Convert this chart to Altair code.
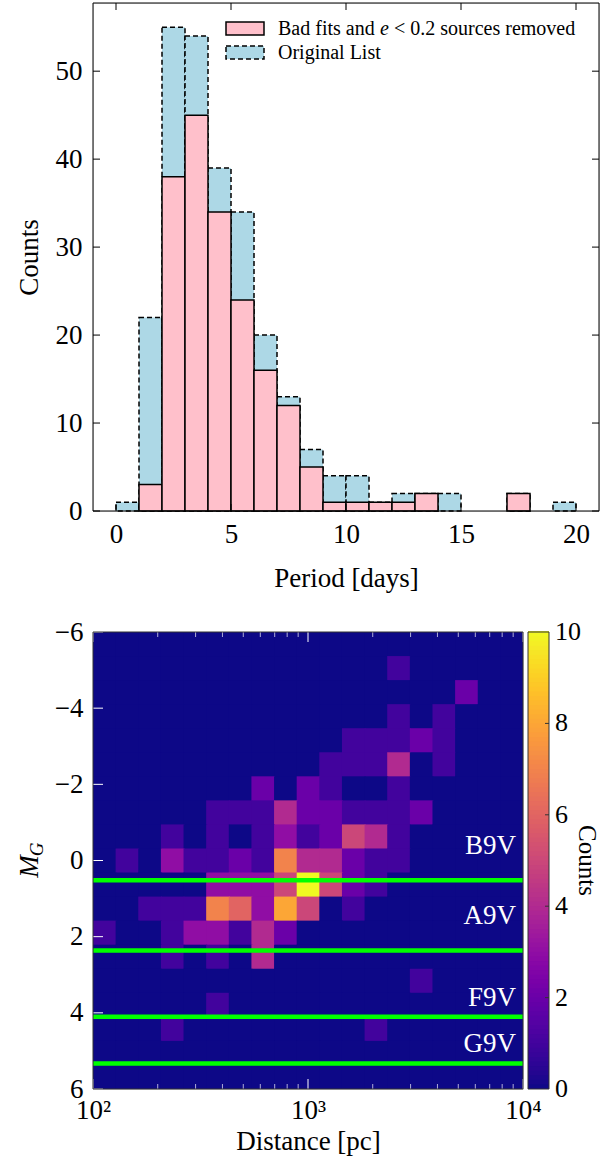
import altair as alt
import pandas as pd

FONT = "Liberation Serif"

# ---------------- top panel data (histogram of periods) ----------------
bin_start = list(range(20))
bin_width = 1
orig_counts = [1, 22, 55, 54, 39, 34, 20, 13, 7, 4, 4, 1, 2, 2, 2, 0, 0, 2, 0, 1]
clean_counts = [0, 3, 38, 45, 34, 24, 16, 12, 5, 1, 1, 1, 1, 2, 0, 0, 0, 2, 0, 0]
LABEL_CLEAN_PARTS = ["Bad fits and", "e", "< 0.2 sources removed"]
LABEL_ORIG = "Original List"
hist_x_ticks = [0, 5, 10, 15, 20]
hist_y_ticks = [0, 10, 20, 30, 40, 50]

# ---------------- bottom panel data (2D histogram) ----------------
n_bins = 19
dist_range = [100, 10000]
mg_range = [-6, 6]
# rows from M_G = -6 (top) to +6 (bottom), columns from 100 pc to 10^4 pc
heat_rows = [
    [0, 0, 0, 0, 0, 0, 0, 0, 0, 0, 0, 0, 0, 0, 0, 0, 0, 0, 0],
    [0, 0, 0, 0, 0, 0, 0, 0, 0, 0, 0, 0, 0, 1, 0, 0, 0, 0, 0],
    [0, 0, 0, 0, 0, 0, 0, 0, 0, 0, 0, 0, 0, 0, 0, 0, 2, 0, 0],
    [0, 0, 0, 0, 0, 0, 0, 0, 0, 0, 0, 0, 0, 1, 0, 1, 0, 0, 0],
    [0, 0, 0, 0, 0, 0, 0, 0, 0, 0, 0, 1, 1, 1, 2, 1, 0, 0, 0],
    [0, 0, 0, 0, 0, 0, 0, 0, 0, 0, 1, 1, 1, 4, 0, 1, 0, 0, 0],
    [0, 0, 0, 0, 0, 0, 0, 2, 0, 2, 1, 0, 0, 1, 0, 0, 0, 0, 0],
    [0, 0, 0, 0, 0, 1, 1, 1, 4, 2, 2, 1, 1, 1, 2, 0, 0, 0, 0],
    [0, 0, 0, 1, 0, 1, 0, 1, 3, 1, 2, 5, 4, 1, 0, 0, 0, 0, 0],
    [0, 1, 0, 3, 1, 1, 2, 1, 7, 4, 4, 2, 1, 1, 0, 0, 0, 0, 0],
    [0, 0, 0, 0, 0, 3, 3, 3, 5, 10, 5, 2, 1, 0, 0, 0, 0, 0, 0],
    [0, 0, 1, 1, 1, 7, 6, 3, 8, 5, 0, 1, 0, 0, 0, 0, 0, 0, 0],
    [1, 0, 0, 1, 3, 3, 1, 4, 2, 0, 0, 0, 0, 0, 0, 0, 0, 0, 0],
    [0, 0, 0, 1, 0, 1, 0, 4, 0, 0, 0, 0, 0, 0, 0, 0, 0, 0, 0],
    [0, 0, 0, 0, 0, 0, 0, 0, 0, 0, 0, 0, 0, 0, 1, 0, 0, 0, 0],
    [0, 0, 0, 0, 0, 1, 0, 0, 0, 0, 0, 0, 0, 0, 0, 0, 0, 0, 0],
    [0, 0, 0, 1, 0, 0, 0, 0, 0, 0, 0, 0, 1, 0, 0, 0, 0, 0, 0],
    [0, 0, 0, 0, 0, 0, 0, 0, 0, 0, 0, 0, 0, 0, 0, 0, 0, 0, 0],
    [0, 0, 0, 0, 0, 0, 0, 0, 0, 0, 0, 0, 0, 0, 0, 0, 0, 0, 0],
]
class_labels = ["B9V", "A9V", "F9V", "G9V"]
class_line_mg = [0.52, 2.36, 4.1, 5.33]
class_label_mg = [-0.18, 1.67, 3.82, 5.03]
class_label_dist = 9280
dist_major = [100, 1000, 10000]
dist_minor = [200, 300, 400, 500, 600, 700, 800, 900,
              2000, 3000, 4000, 5000, 6000, 7000, 8000, 9000]
mg_ticks = [-6, -4, -2, 0, 2, 4, 6]
cbar_range = [0, 10]
cbar_ticks = [0, 2, 4, 6, 8, 10]
cbar_inner_ticks = [2, 4, 6, 8]
cbar_title = "Counts"

# ---------------- build tables ----------------
orig_df = pd.DataFrame({"start": bin_start,
                        "end": [s + bin_width for s in bin_start],
                        "count": orig_counts, "base": 0})
orig_df = orig_df[orig_df["count"] > 0]
clean_df = pd.DataFrame({"start": bin_start,
                         "end": [s + bin_width for s in bin_start],
                         "count": clean_counts, "base": 0})
clean_df = clean_df[clean_df["count"] > 0]

lx0 = 2.0
lx_step = 2.0 / n_bins
y_step = (mg_range[1] - mg_range[0]) / n_bins
cells = []
for r, row in enumerate(heat_rows):
    for c, v in enumerate(row):
        cells.append({
            "x": 10 ** (lx0 + c * lx_step), "x2": 10 ** (lx0 + (c + 1) * lx_step),
            "y": mg_range[0] + r * y_step, "y2": mg_range[0] + (r + 1) * y_step,
            "count": v})
heat_df = pd.DataFrame(cells)

n_steps = 100
cb_step = (cbar_range[1] - cbar_range[0]) / n_steps
cbar_df = pd.DataFrame({
    "lo": [cbar_range[0] + i * cb_step for i in range(n_steps)],
    "hi": [cbar_range[0] + (i + 1) * cb_step for i in range(n_steps)],
    "mid": [cbar_range[0] + (i + 0.5) * cb_step for i in range(n_steps)],
})

one = pd.DataFrame({"k": [0]})

# ---------------- top panel ----------------
W1, H1 = 506, 508
TL = 7
PINK, BLUE = "#ffc0cb", "#add8e6"
DASH = [5, 3]
xs1 = alt.Scale(domain=[-1, 21], nice=False, zero=False)
ys1 = alt.Scale(domain=[0, 57.75], nice=False, zero=False)

x_axis1 = alt.Axis(values=hist_x_ticks, ticks=False, domain=False, grid=False,
                   labelFont=FONT, labelFontSize=27, labelPadding=10, labelFlush=False,
                   labelColor="black",
                   title="Period [days]", titleFont=FONT, titleFontSize=27,
                   titleFontWeight="normal", titlePadding=18, titleColor="black")
y_axis1 = alt.Axis(values=hist_y_ticks, ticks=False, domain=False, grid=False,
                   labelFont=FONT, labelFontSize=27, labelPadding=11, labelColor="black",
                   title="Counts", titleFont=FONT, titleFontSize=27,
                   titleFontWeight="normal", titlePadding=12, titleColor="black")

orig_layer = alt.Chart(orig_df).mark_rect(
    fill=BLUE, stroke="black", strokeWidth=1.5, strokeDash=DASH).encode(
    x=alt.X("start:Q", scale=xs1, axis=x_axis1), x2="end:Q",
    y=alt.Y("count:Q", scale=ys1, axis=y_axis1), y2="base:Q")
clean_layer = alt.Chart(clean_df).mark_rect(
    fill=PINK, stroke="black", strokeWidth=1.5).encode(
    x=alt.X("start:Q", scale=xs1, axis=x_axis1), x2="end:Q",
    y=alt.Y("count:Q", scale=ys1, axis=y_axis1), y2="base:Q")

xt1 = pd.DataFrame({"start": hist_x_ticks})
yt1 = pd.DataFrame({"count": hist_y_ticks})
tick_b1 = alt.Chart(xt1).mark_rule(color="black", strokeWidth=1).encode(
    x=alt.X("start:Q", scale=xs1, axis=x_axis1), y=alt.value(H1), y2=alt.value(H1 - TL))
tick_t1 = alt.Chart(xt1).mark_rule(color="black", strokeWidth=1).encode(
    x=alt.X("start:Q", scale=xs1, axis=x_axis1), y=alt.value(0), y2=alt.value(TL))
tick_l1 = alt.Chart(yt1).mark_rule(color="black", strokeWidth=1).encode(
    y=alt.Y("count:Q", scale=ys1, axis=y_axis1), x=alt.value(0), x2=alt.value(TL))
tick_r1 = alt.Chart(yt1).mark_rule(color="black", strokeWidth=1).encode(
    y=alt.Y("count:Q", scale=ys1, axis=y_axis1), x=alt.value(W1), x2=alt.value(W1 - TL))
frame1 = alt.Chart(one).mark_rect(fillOpacity=0, stroke="black", strokeWidth=1).encode(
    x=alt.value(0), x2=alt.value(W1), y=alt.value(0), y2=alt.value(H1))

# legend (patches + text)
LG_X0, LG_X1 = 133, 171
LG_TX = 185
LG_FS = 20
leg_patch1 = alt.Chart(one).mark_rect(fill=PINK, stroke="black", strokeWidth=1.5).encode(
    x=alt.value(LG_X0), x2=alt.value(LG_X1), y=alt.value(19), y2=alt.value(32))
leg_patch2 = alt.Chart(one).mark_rect(fill=BLUE, stroke="black", strokeWidth=1.5,
                                      strokeDash=DASH).encode(
    x=alt.value(LG_X0), x2=alt.value(LG_X1), y=alt.value(43), y2=alt.value(56))
part_x = [LG_TX, LG_TX + 102, LG_TX + 116]
part_style = ["normal", "italic", "normal"]
leg_texts = []
for txt, px, st in zip(LABEL_CLEAN_PARTS, part_x, part_style):
    leg_texts.append(alt.Chart(pd.DataFrame({"t": [txt]})).mark_text(
        align="left", baseline="alphabetic", font=FONT, fontSize=LG_FS, fontStyle=st,
        color="black").encode(text="t:N", x=alt.value(px), y=alt.value(32)))
leg_texts.append(alt.Chart(pd.DataFrame({"t": [LABEL_ORIG]})).mark_text(
    align="left", baseline="alphabetic", font=FONT, fontSize=LG_FS, color="black").encode(
    text="t:N", x=alt.value(LG_TX), y=alt.value(56)))

top = alt.layer(orig_layer, clean_layer, tick_b1, tick_t1, tick_l1, tick_r1, frame1,
                leg_patch1, leg_patch2, *leg_texts).properties(width=W1, height=H1)

# ---------------- bottom panel ----------------
W2, H2 = 430, 457
xs2 = alt.Scale(type="log", domain=dist_range, nice=False)
ys2 = alt.Scale(domain=mg_range, reverse=True, nice=False, zero=False)
cscale = alt.Scale(scheme="plasma", domain=cbar_range)

x_axis2 = alt.Axis(values=dist_major, ticks=False, domain=False, grid=False,
                   labelExpr="datum.value == 100 ? '10²' : datum.value == 1000 ? '10³' : '10⁴'",
                   labelFont=FONT, labelFontSize=27, labelPadding=8, labelFlush=False,
                   labelColor="black",
                   title="Distance [pc]", titleFont=FONT, titleFontSize=27,
                   titleFontWeight="normal", titlePadding=5, titleColor="black")
y_axis2 = alt.Axis(values=mg_ticks, ticks=False, domain=False, grid=False,
                   labelFont=FONT, labelFontSize=27, labelPadding=10, labelFlush=False,
                   labelColor="black", title=None)

heat = alt.Chart(heat_df).mark_rect(x2Offset=1, y2Offset=1, clip=True).encode(
    x=alt.X("x:Q", scale=xs2, axis=x_axis2),
    x2="x2:Q",
    y=alt.Y("y:Q", scale=ys2, axis=y_axis2),
    y2="y2:Q",
    color=alt.Color("count:Q", scale=cscale, legend=None),
)

lines_df = pd.DataFrame({"y": class_line_mg})
lines = alt.Chart(lines_df).mark_rule(color="#00ff00", strokeWidth=4.5).encode(
    y=alt.Y("y:Q", scale=ys2, axis=y_axis2), x=alt.value(0), x2=alt.value(W2))

lab_df = pd.DataFrame({"label": class_labels, "y": class_label_mg,
                       "x": [class_label_dist] * len(class_labels)})
labels = alt.Chart(lab_df).mark_text(align="right", baseline="alphabetic", color="white",
                                     font=FONT, fontSize=27).encode(
    x=alt.X("x:Q", scale=xs2, axis=x_axis2), y=alt.Y("y:Q", scale=ys2, axis=y_axis2),
    text="label:N")

TLM, TLm = 10, 5
maj_df = pd.DataFrame({"x": dist_major})
min_df = pd.DataFrame({"x": dist_minor})
mgt_df = pd.DataFrame({"y": mg_ticks})
tick_layers = [
    alt.Chart(maj_df).mark_rule(color="white", strokeWidth=1).encode(
        x=alt.X("x:Q", scale=xs2, axis=x_axis2), y=alt.value(H2), y2=alt.value(H2 - TLM)),
    alt.Chart(maj_df).mark_rule(color="white", strokeWidth=1).encode(
        x=alt.X("x:Q", scale=xs2, axis=x_axis2), y=alt.value(0), y2=alt.value(TLM)),
    alt.Chart(min_df).mark_rule(color="white", strokeWidth=0.8, opacity=0.85).encode(
        x=alt.X("x:Q", scale=xs2, axis=x_axis2), y=alt.value(H2), y2=alt.value(H2 - TLm)),
    alt.Chart(min_df).mark_rule(color="white", strokeWidth=0.8, opacity=0.85).encode(
        x=alt.X("x:Q", scale=xs2, axis=x_axis2), y=alt.value(0), y2=alt.value(TLm)),
    alt.Chart(mgt_df).mark_rule(color="white", strokeWidth=1).encode(
        y=alt.Y("y:Q", scale=ys2, axis=y_axis2), x=alt.value(0), x2=alt.value(TLM)),
]
frame2 = alt.Chart(one).mark_rect(fillOpacity=0, stroke="#333", strokeWidth=1).encode(
    x=alt.value(0), x2=alt.value(W2), y=alt.value(0), y2=alt.value(H2))

m_title = alt.Chart(pd.DataFrame({"t": ["M"]})).mark_text(
    angle=270, font=FONT, fontSize=27, fontStyle="italic", color="black",
    align="center", baseline="middle").encode(
    text="t:N", x=alt.value(-63), y=alt.value(H2 / 2 + 6))
g_title = alt.Chart(pd.DataFrame({"t": ["G"]})).mark_text(
    angle=270, font=FONT, fontSize=19, fontStyle="italic", color="black",
    align="center", baseline="middle").encode(
    text="t:N", x=alt.value(-56), y=alt.value(H2 / 2 - 11))

main2 = alt.layer(heat, lines, labels, *tick_layers, frame2, m_title, g_title)

# colorbar, drawn through its own count scale
CB_X0, CB_X1 = W2 + 5, W2 + 26
cys = alt.Scale(domain=cbar_range, nice=False, zero=False)
cb_rects = alt.Chart(cbar_df).mark_rect(y2Offset=-1).encode(
    x=alt.value(CB_X0), x2=alt.value(CB_X1),
    y=alt.Y("lo:Q", scale=cys, axis=None), y2="hi:Q",
    color=alt.Color("mid:Q", scale=cscale, legend=None))
cb_frame = alt.Chart(one).mark_rect(fillOpacity=0, stroke="#333", strokeWidth=1).encode(
    x=alt.value(CB_X0), x2=alt.value(CB_X1), y=alt.value(0), y2=alt.value(H2))
cb_tick_df = pd.DataFrame({"lo": cbar_inner_ticks})
cb_ticks = alt.Chart(cb_tick_df).mark_rule(color="#333", strokeWidth=1).encode(
    y=alt.Y("lo:Q", scale=cys, axis=None), x=alt.value(CB_X1 - 4), x2=alt.value(CB_X1))
cb_lab_df = pd.DataFrame({"lo": cbar_ticks, "txt": [str(v) for v in cbar_ticks]})
cb_labels = alt.Chart(cb_lab_df).mark_text(
    align="left", baseline="middle", font=FONT, fontSize=26, color="black").encode(
    y=alt.Y("lo:Q", scale=cys, axis=None), x=alt.value(CB_X1 + 6), text="txt:N")
cb_title = alt.Chart(pd.DataFrame({"t": [cbar_title]})).mark_text(
    angle=90, align="center", baseline="middle", font=FONT, fontSize=25,
    color="black").encode(text="t:N", x=alt.value(W2 + 64), y=alt.value(H2 / 2))
cbar = alt.layer(cb_rects, cb_frame, cb_ticks, cb_labels, cb_title)

bottom = alt.layer(main2, cbar).resolve_scale(y="independent").properties(
    width=W2, height=H2)

chart = alt.vconcat(top, bottom, spacing=25).properties(
    padding={"left": 14, "top": 2, "right": 0, "bottom": 5}).configure_view(
    strokeWidth=0).configure(background="white")

chart.save("out.html", embed_options={"renderer": "svg", "actions": False})
